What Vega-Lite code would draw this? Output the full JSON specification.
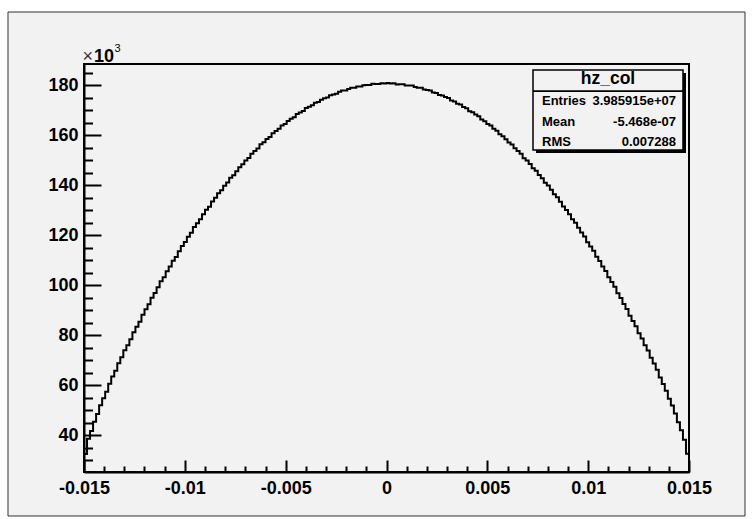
{
  "$schema": "https://vega.github.io/schema/vega-lite/v6.json",
  "width": 605,
  "height": 408,
  "autosize": {"type": "none"},
  "padding": {"left": 84, "top": 64, "right": 63, "bottom": 47},
  "background": "#ffffff",
  "config": {
    "view": {"stroke": null},
    "font": "Liberation Sans",
    "text": {"font": "Liberation Sans", "color": "#000000"}
  },
  "datasets": {
    "hist": [
      {"x": -0.015, "count": 32600}, {"x": -0.01485, "count": 38700}, {"x": -0.0147, "count": 41800}, {"x": -0.01455, "count": 45500}, {"x": -0.0144, "count": 48600},
      {"x": -0.01425, "count": 52100}, {"x": -0.0141, "count": 54900}, {"x": -0.01395, "count": 57500}, {"x": -0.0138, "count": 60700}, {"x": -0.01365, "count": 63600},
      {"x": -0.0135, "count": 65900}, {"x": -0.01335, "count": 68800}, {"x": -0.0132, "count": 71200}, {"x": -0.01305, "count": 74000}, {"x": -0.0129, "count": 76000},
      {"x": -0.01275, "count": 78400}, {"x": -0.0126, "count": 81200}, {"x": -0.01245, "count": 83400}, {"x": -0.0123, "count": 85400}, {"x": -0.01215, "count": 88200},
      {"x": -0.012, "count": 90400}, {"x": -0.01185, "count": 92400}, {"x": -0.0117, "count": 95000}, {"x": -0.01155, "count": 96900}, {"x": -0.0114, "count": 99200},
      {"x": -0.01125, "count": 101600}, {"x": -0.0111, "count": 103200}, {"x": -0.01095, "count": 105600}, {"x": -0.0108, "count": 107500}, {"x": -0.01065, "count": 109800},
      {"x": -0.0105, "count": 111300}, {"x": -0.01035, "count": 113600}, {"x": -0.0102, "count": 115700}, {"x": -0.01005, "count": 117300}, {"x": -0.0099, "count": 119400},
      {"x": -0.00975, "count": 121000}, {"x": -0.0096, "count": 123300}, {"x": -0.00945, "count": 124800}, {"x": -0.0093, "count": 126400}, {"x": -0.00915, "count": 128400},
      {"x": -0.009, "count": 130200}, {"x": -0.00885, "count": 131400}, {"x": -0.0087, "count": 133500}, {"x": -0.00855, "count": 135000}, {"x": -0.0084, "count": 136800},
      {"x": -0.00825, "count": 138000}, {"x": -0.0081, "count": 139800}, {"x": -0.00795, "count": 141100}, {"x": -0.0078, "count": 143000}, {"x": -0.00765, "count": 144000},
      {"x": -0.0075, "count": 145600}, {"x": -0.00735, "count": 147200}, {"x": -0.0072, "count": 148300}, {"x": -0.00705, "count": 149800}, {"x": -0.0069, "count": 150800},
      {"x": -0.00675, "count": 152500}, {"x": -0.0066, "count": 153600}, {"x": -0.00645, "count": 154600}, {"x": -0.0063, "count": 156300}, {"x": -0.00615, "count": 157100},
      {"x": -0.006, "count": 158400}, {"x": -0.00585, "count": 159200}, {"x": -0.0057, "count": 160700}, {"x": -0.00555, "count": 161600}, {"x": -0.0054, "count": 162500},
      {"x": -0.00525, "count": 163800}, {"x": -0.0051, "count": 164400}, {"x": -0.00495, "count": 165600}, {"x": -0.0048, "count": 166500}, {"x": -0.00465, "count": 167100},
      {"x": -0.0045, "count": 168400}, {"x": -0.00435, "count": 169000}, {"x": -0.0042, "count": 169600}, {"x": -0.00405, "count": 170800}, {"x": -0.0039, "count": 171300},
      {"x": -0.00375, "count": 171900}, {"x": -0.0036, "count": 172900}, {"x": -0.00345, "count": 173200}, {"x": -0.0033, "count": 174100}, {"x": -0.00315, "count": 174700},
      {"x": -0.003, "count": 175000}, {"x": -0.00285, "count": 175900}, {"x": -0.0027, "count": 176200}, {"x": -0.00255, "count": 176500}, {"x": -0.0024, "count": 177300},
      {"x": -0.00225, "count": 177800}, {"x": -0.0021, "count": 177800}, {"x": -0.00195, "count": 178400}, {"x": -0.0018, "count": 178900}, {"x": -0.00165, "count": 178900},
      {"x": -0.0015, "count": 179400}, {"x": -0.00135, "count": 179400}, {"x": -0.0012, "count": 179900}, {"x": -0.00105, "count": 180000}, {"x": -0.0009, "count": 180000},
      {"x": -0.00075, "count": 180500}, {"x": -0.0006, "count": 180400}, {"x": -0.00045, "count": 180400}, {"x": -0.0003, "count": 180700}, {"x": -0.00015, "count": 180600},
      {"x": 0, "count": 180800}, {"x": 0.00015, "count": 180600}, {"x": 0.0003, "count": 180700}, {"x": 0.00045, "count": 180200}, {"x": 0.0006, "count": 180300},
      {"x": 0.00075, "count": 180300}, {"x": 0.0009, "count": 179800}, {"x": 0.00105, "count": 179800}, {"x": 0.0012, "count": 179800}, {"x": 0.00135, "count": 179200},
      {"x": 0.0015, "count": 178900}, {"x": 0.00165, "count": 178900}, {"x": 0.0018, "count": 178200}, {"x": 0.00195, "count": 178000}, {"x": 0.0021, "count": 177800},
      {"x": 0.00225, "count": 177000}, {"x": 0.0024, "count": 176800}, {"x": 0.00255, "count": 176000}, {"x": 0.0027, "count": 175800}, {"x": 0.00285, "count": 175200},
      {"x": 0.003, "count": 174800}, {"x": 0.00315, "count": 173800}, {"x": 0.0033, "count": 173400}, {"x": 0.00345, "count": 172500}, {"x": 0.0036, "count": 172200},
      {"x": 0.00375, "count": 171200}, {"x": 0.0039, "count": 170700}, {"x": 0.00405, "count": 169500}, {"x": 0.0042, "count": 169100}, {"x": 0.00435, "count": 168200},
      {"x": 0.0045, "count": 167500}, {"x": 0.00465, "count": 166200}, {"x": 0.0048, "count": 165500}, {"x": 0.00495, "count": 164400}, {"x": 0.0051, "count": 163800},
      {"x": 0.00525, "count": 162500}, {"x": 0.0054, "count": 161700}, {"x": 0.00555, "count": 160300}, {"x": 0.0057, "count": 159500}, {"x": 0.00585, "count": 158300},
      {"x": 0.006, "count": 157000}, {"x": 0.00615, "count": 156200}, {"x": 0.0063, "count": 154700}, {"x": 0.00645, "count": 153600}, {"x": 0.0066, "count": 152500},
      {"x": 0.00675, "count": 150700}, {"x": 0.0069, "count": 149800}, {"x": 0.00705, "count": 148400}, {"x": 0.0072, "count": 146800}, {"x": 0.00735, "count": 145800},
      {"x": 0.0075, "count": 144100}, {"x": 0.00765, "count": 142800}, {"x": 0.0078, "count": 141000}, {"x": 0.00795, "count": 139900}, {"x": 0.0081, "count": 138200},
      {"x": 0.00825, "count": 136400}, {"x": 0.0084, "count": 135200}, {"x": 0.00855, "count": 133400}, {"x": 0.0087, "count": 131500}, {"x": 0.00885, "count": 130100},
      {"x": 0.009, "count": 128400}, {"x": 0.00915, "count": 126400}, {"x": 0.0093, "count": 125000}, {"x": 0.00945, "count": 123000}, {"x": 0.0096, "count": 121100},
      {"x": 0.00975, "count": 119500}, {"x": 0.0099, "count": 117200}, {"x": 0.01005, "count": 115500}, {"x": 0.0102, "count": 113800}, {"x": 0.01035, "count": 111400},
      {"x": 0.0105, "count": 109700}, {"x": 0.01065, "count": 107500}, {"x": 0.0108, "count": 105700}, {"x": 0.01095, "count": 103200}, {"x": 0.0111, "count": 101300},
      {"x": 0.01125, "count": 99400}, {"x": 0.0114, "count": 96800}, {"x": 0.01155, "count": 94900}, {"x": 0.0117, "count": 92500}, {"x": 0.01185, "count": 90500},
      {"x": 0.012, "count": 87800}, {"x": 0.01215, "count": 85700}, {"x": 0.0123, "count": 83600}, {"x": 0.01245, "count": 80800}, {"x": 0.0126, "count": 78700},
      {"x": 0.01275, "count": 76000}, {"x": 0.0129, "count": 73900}, {"x": 0.01305, "count": 71000}, {"x": 0.0132, "count": 68700}, {"x": 0.01335, "count": 66300},
      {"x": 0.0135, "count": 63200}, {"x": 0.01365, "count": 60600}, {"x": 0.0138, "count": 57900}, {"x": 0.01395, "count": 54700}, {"x": 0.0141, "count": 52000},
      {"x": 0.01425, "count": 48800}, {"x": 0.0144, "count": 45300}, {"x": 0.01455, "count": 42100}, {"x": 0.0147, "count": 38300}, {"x": 0.01485, "count": 32700},
      {"x": 0.015, "count": 32700}
    ],
    "stats": [
      {"stat": "Entries", "value": "3.985915e+07"},
      {"stat": "Mean", "value": "-5.468e-07"},
      {"stat": "RMS", "value": "0.007288"}
    ]
  },
  "layer": [
    {
      "data": {"values": [{}]},
      "mark": {"type": "rect", "fill": "#f2f2f2", "stroke": "#333333", "strokeWidth": 1, "clip": false},
      "encoding": {
        "x": {"datum": -0.0187686, "type": "quantitative"},
        "x2": {"datum": 0.017777},
        "y": {"datum": 7826, "type": "quantitative"},
        "y2": {"datum": 209174}
      }
    },
    {
      "data": {"name": "hist"},
      "mark": {"type": "line", "interpolate": "step-after", "color": "#000000", "strokeWidth": 2},
      "encoding": {
        "x": {
          "field": "x", "type": "quantitative",
          "scale": {"domain": [-0.015, 0.015], "nice": false, "zero": false},
          "axis": {
            "title": null, "grid": false, "zindex": 1, "tickCount": 200,
            "values": [-0.015, -0.014, -0.013, -0.012, -0.011, -0.01, -0.009, -0.008, -0.007, -0.006, -0.005, -0.004, -0.003, -0.002, -0.001, 0, 0.001, 0.002, 0.003, 0.004, 0.005, 0.006, 0.007, 0.008, 0.009, 0.01, 0.011, 0.012, 0.013, 0.014, 0.015],
            "labelExpr": "abs(datum.value*200 - round(datum.value*200)) < 0.001 ? '' + datum.value : ''",
            "tickSize": {"condition": {"test": "abs(datum.value*200 - round(datum.value*200)) < 0.001", "value": -12}, "value": -6},
            "tickWidth": 2, "tickColor": "#000000",
            "domainColor": "#000000", "domainWidth": 2,
            "labelFont": "Liberation Sans", "labelFontWeight": "bold", "labelFontSize": 18, "labelColor": "#000000",
            "labelPadding": 19, "labelOverlap": false, "labelFlush": false, "labelBound": false
          }
        },
        "y": {
          "field": "count", "type": "quantitative",
          "scale": {"domain": [25400, 188400], "nice": false, "zero": false},
          "axis": {
            "title": null, "grid": false, "zindex": 1, "tickCount": 200,
            "values": [30000, 35000, 40000, 45000, 50000, 55000, 60000, 65000, 70000, 75000, 80000, 85000, 90000, 95000, 100000, 105000, 110000, 115000, 120000, 125000, 130000, 135000, 140000, 145000, 150000, 155000, 160000, 165000, 170000, 175000, 180000, 185000],
            "labelExpr": "datum.value % 20000 == 0 ? '' + (datum.value / 1000) : ''",
            "tickSize": {"condition": {"test": "datum.value % 20000 == 0", "value": -17}, "value": -8.5},
            "tickWidth": 2, "tickColor": "#000000",
            "domainColor": "#000000", "domainWidth": 2,
            "labelFont": "Liberation Sans", "labelFontWeight": "bold", "labelFontSize": 18, "labelColor": "#000000",
            "labelPadding": 23, "labelOverlap": false, "labelFlush": false, "labelBound": false
          }
        }
      }
    },
    {
      "data": {"values": [{}]},
      "mark": {"type": "rect", "fill": "transparent", "stroke": "#000000", "strokeWidth": 2, "clip": false},
      "encoding": {
        "x": {"datum": -0.015, "type": "quantitative"},
        "x2": {"datum": 0.015},
        "y": {"datum": 25400, "type": "quantitative"},
        "y2": {"datum": 188400}
      }
    },
    {
      "data": {"values": [{}]},
      "mark": {"type": "rect", "fill": "#000000", "clip": false},
      "encoding": {
        "x": {"datum": 0.007413, "type": "quantitative"},
        "x2": {"datum": 0.014851},
        "y": {"datum": 152840, "type": "quantitative"},
        "y2": {"datum": 184800}
      }
    },
    {
      "data": {"values": [{}]},
      "mark": {"type": "rect", "fill": "#f2f2f2", "stroke": "#000000", "strokeWidth": 1.5, "clip": false},
      "encoding": {
        "x": {"datum": 0.007265, "type": "quantitative"},
        "x2": {"datum": 0.014702},
        "y": {"datum": 154040, "type": "quantitative"},
        "y2": {"datum": 186000}
      }
    },
    {
      "data": {"values": [{}]},
      "mark": {"type": "rule", "color": "#000000", "strokeWidth": 1.7},
      "encoding": {
        "x": {"datum": 0.007265, "type": "quantitative"},
        "x2": {"datum": 0.014702},
        "y": {"datum": 177600, "type": "quantitative"}
      }
    },
    {
      "data": {"values": [{}]},
      "mark": {"type": "text", "text": "hz_col", "fontWeight": "bold", "fontSize": 17.5, "align": "center", "baseline": "middle"},
      "encoding": {
        "x": {"datum": 0.010984, "type": "quantitative"},
        "y": {"datum": 182300, "type": "quantitative"}
      }
    },
    {
      "data": {"name": "stats"},
      "transform": [{"filter": "datum.stat == 'Entries'"}],
      "mark": {"type": "text", "fontWeight": "bold", "fontSize": 13, "align": "left", "baseline": "middle"},
      "encoding": {
        "text": {"field": "stat"},
        "x": {"datum": 0.007711, "type": "quantitative"},
        "y": {"datum": 173500, "type": "quantitative"}
      }
    },
    {
      "data": {"name": "stats"},
      "transform": [{"filter": "datum.stat == 'Entries'"}],
      "mark": {"type": "text", "fontWeight": "bold", "fontSize": 13, "align": "right", "baseline": "middle"},
      "encoding": {
        "text": {"field": "value"},
        "x": {"datum": 0.014355, "type": "quantitative"},
        "y": {"datum": 173500, "type": "quantitative"}
      }
    },
    {
      "data": {"name": "stats"},
      "transform": [{"filter": "datum.stat == 'Mean'"}],
      "mark": {"type": "text", "fontWeight": "bold", "fontSize": 13, "align": "left", "baseline": "middle"},
      "encoding": {
        "text": {"field": "stat"},
        "x": {"datum": 0.007711, "type": "quantitative"},
        "y": {"datum": 165100, "type": "quantitative"}
      }
    },
    {
      "data": {"name": "stats"},
      "transform": [{"filter": "datum.stat == 'Mean'"}],
      "mark": {"type": "text", "fontWeight": "bold", "fontSize": 13, "align": "right", "baseline": "middle"},
      "encoding": {
        "text": {"field": "value"},
        "x": {"datum": 0.014355, "type": "quantitative"},
        "y": {"datum": 165100, "type": "quantitative"}
      }
    },
    {
      "data": {"name": "stats"},
      "transform": [{"filter": "datum.stat == 'RMS'"}],
      "mark": {"type": "text", "fontWeight": "bold", "fontSize": 13, "align": "left", "baseline": "middle"},
      "encoding": {
        "text": {"field": "stat"},
        "x": {"datum": 0.007711, "type": "quantitative"},
        "y": {"datum": 157100, "type": "quantitative"}
      }
    },
    {
      "data": {"name": "stats"},
      "transform": [{"filter": "datum.stat == 'RMS'"}],
      "mark": {"type": "text", "fontWeight": "bold", "fontSize": 13, "align": "right", "baseline": "middle"},
      "encoding": {
        "text": {"field": "value"},
        "x": {"datum": 0.014355, "type": "quantitative"},
        "y": {"datum": 157100, "type": "quantitative"}
      }
    },
    {
      "data": {"values": [{}]},
      "mark": {"type": "text", "text": "×", "fontSize": 18, "align": "left", "baseline": "alphabetic", "color": "#333333"},
      "encoding": {
        "x": {"datum": -0.015074, "type": "quantitative"},
        "y": {"datum": 189079, "type": "quantitative"}
      }
    },
    {
      "data": {"values": [{}]},
      "mark": {"type": "text", "text": "10", "fontSize": 18, "fontWeight": "bold", "align": "left", "baseline": "alphabetic"},
      "encoding": {
        "x": {"datum": -0.014504, "type": "quantitative"},
        "y": {"datum": 189079, "type": "quantitative"}
      }
    },
    {
      "data": {"values": [{}]},
      "mark": {"type": "text", "text": "3", "fontSize": 11, "align": "left", "baseline": "alphabetic"},
      "encoding": {
        "x": {"datum": -0.013488, "type": "quantitative"},
        "y": {"datum": 193074, "type": "quantitative"}
      }
    }
  ]
}
